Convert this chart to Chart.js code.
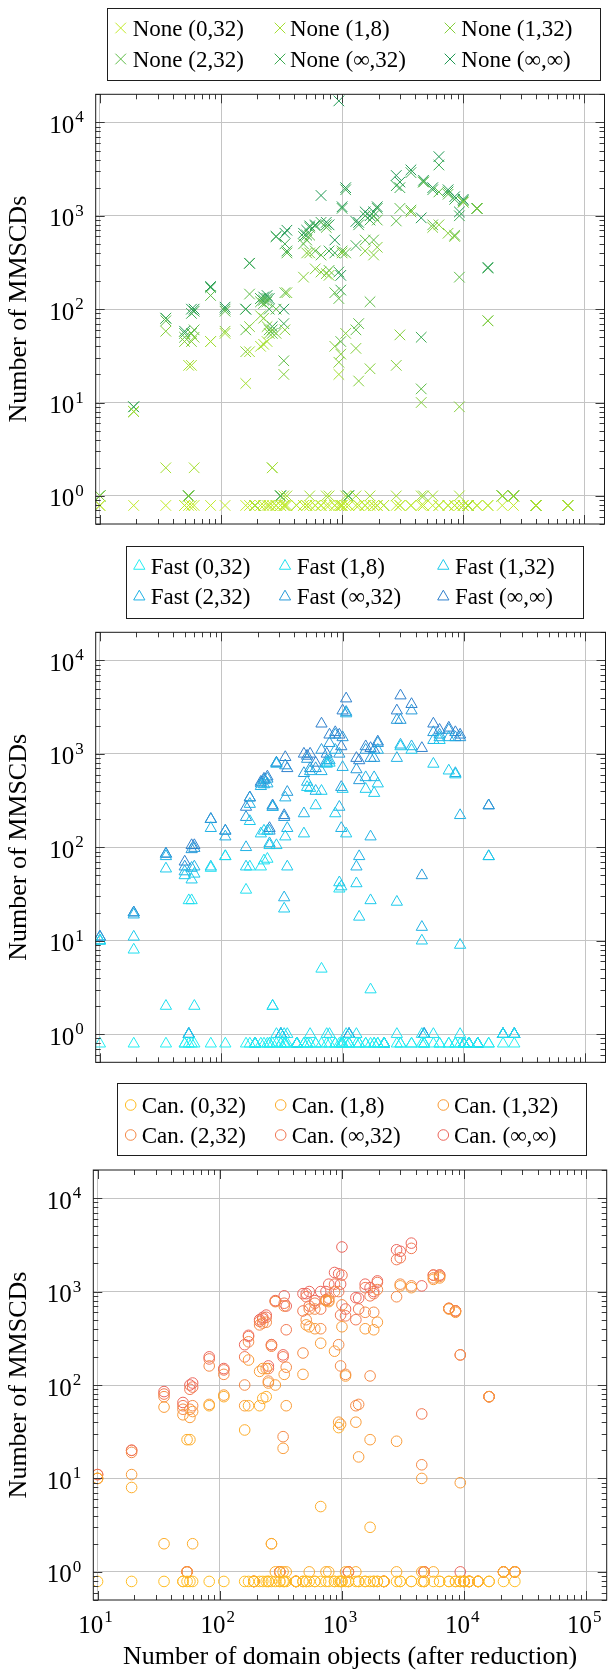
<!DOCTYPE html>
<html>
<head>
<meta charset="utf-8">
<title>Number of MMSCDs</title>
<script src="https://cdn.jsdelivr.net/npm/chart.js@4.4.1/dist/chart.umd.min.js"></script>
<style>
  body { margin: 0; background: #fff; }
  #page { position: relative; width: 613px; height: 1676px; overflow: hidden; }
  #page canvas { position: absolute; left: 0; }
</style>
</head>
<body>
<div id="page"></div>
<script>
// benchmarks: number of domain objects (after reduction)
const domainObjects = [10, 19, 35, 50, 54, 57, 60, 82, 108, 160,
  172, 190, 212, 225, 240, 250, 265, 285, 310, 330,
  337, 350, 420, 480, 510, 540, 600, 670, 740, 780,
  870, 940, 975, 1000, 1070, 1130, 1300, 1370, 1550, 1700,
  1820, 1950, 2200, 2800, 3000, 3700, 4500, 4700, 5600, 6300,
  7500, 8500, 9300, 10000, 11000, 13000, 16000, 21000, 26000, 40000,
  73000];

const xTickValues = [10, 100, 1000, 10000, 100000];
const yTickValues = [1, 10, 100, 1000, 10000];
const xLimits = [9.23, 146800];
const yLimits = [0.5, 20000];

// (a zero count is plotted at 0.79, just under 10^0)
const none032 = [.79,.79,.79,.79,.79,.79,.79,.79,.79,.79, .79,.79,.79,.79,.79,.79,.79,.79,.79,.79,
  .79,.79,.79,.79,.79,.79,.79,.79,.79,.79, .79,.79,.79,.79,.79,.79,.79,.79,.79,.79,
  .79,.79,.79,.79,.79,.79,.79,.79,.79,.79, .79,.79,.79,.79,.79,.79,.79,.79,.79,.79, .79];
const none18 = [.79,8,2,.79,25,25,2,45,55,16, 35,.79,40,42,45,.79,2,.79,.79,1,
  .79,1,.79,.79,.79,1,.79,.79,1,1, .79,20,.79,.79,1,.79,1,.79,.79,1,
  .79,.79,.79,1,.79,.79,1,.79,1,.79, .79,.79,1,.79,.79,.79,.79,1,1,.79, .79];
const none132 = [1,8,58,45,1,45,50,45,58,35, 65,.79,85,80,65,55,2,55,.79,20,
  60,150,.79,220,400,400,270,250,240,230, 40,27,33,400,55,.79,38,17,420,23,
  380,460,.79,25,53,1100,10,1,750,800, 650,600,9,1400,.79,1200,75,1,1,.79, .79];
const none232 = [1,8,75,50,1,55,60,140,95,60, 145,.79,120,115,120,60,55,100,1,28,
  150,400,.79,500,550,620,420,380,750,260, 150,130,45,420,400,1,60,70,550,120,
  550,900,.79,880,1200,1150,14,2300,800,1800, 1700,620,220,1400,.79,1200,75,1,1,.79, .79];
const noneInf32 = [1,9,80,55,1,90,95,170,100,100, 310,.79,130,125,130,100,60,600,1,70,
  500,420,.79,600,620,750,780,850,800,420, 400,250,160,1200,1900,1,480,800,1000,900,
  1000,1200,.79,2100,2000,2900,50,2300,1900,3500, 1800,1500,1000,1450,.79,1200,275,1,1,.79, .79];
const noneInfInf = [1,9,80,58,1,100,100,175,105,100, 310,.79,130,135,140,130,65,600,1,100,
  650,700,.79,650,700,780,800,1650,850,800, 550,17000,230,1250,2000,1,870,850,1100,1000,
  1100,1250,.79,2700,2300,3100,950,2400,2000,4300, 1900,1600,1100,1500,.79,1200,280,1,1,.79, .79];

const fast032 = [.79,.79,.79,.79,.79,.79,.79,.79,.79,.79, .79,.79,.79,.79,.79,.79,.79,.79,.79,.79,
  .79,.79,.79,.79,.79,.79,.79,.79,.79,.79, .79,.79,.79,.79,.79,.79,.79,.79,.79,.79,
  .79,.79,.79,.79,.79,.79,.79,.79,.79,.79, .79,.79,.79,.79,.79,.79,.79,.79,.79,null, null];
const fast18 = [10,8,2,.79,27,27,2,60,80,35, 62,.79,62,72,75,.79,2,1,.79,1,
  .79,1,.79,.79,.79,1,.79,5,1,1, .79,36,.79,.79,1,.79,1,.79,.79,3,
  .79,.79,.79,1,.79,.79,1,.79,1,.79, .79,.79,1,.79,.79,.79,.79,1,1,null, null];
const fast132 = [10,11,59,50,1,45,52,62,80,62, 190,.79,140,150,150,105,2,105,1,22,
  130,62,.79,140,440,430,280,400,780,800, 230,42,38,420,140,.79,41,18,420,27,
  380,480,.79,26,1200,1100,10,.79,780,1400, 660,600,9,.79,.79,.79,80,1,1,null, null];
const fast232 = [10,19,80,55,1,60,62,160,130,100, 290,.79,450,470,480,110,270,780,1,29,
  340,160,.79,230,500,650,400,650,800,850, 1100,270,160,720,2700,1,62,80,560,130,
  560,1100,.79,900,1250,1200,14,1,1400,1500, 1500,620,220,.79,.79,.79,80,1,1,null, null];
const fastInf32 = [11,20,85,62,1,95,98,200,150,210, 340,.79,480,520,540,150,270,800,1,210,
  750,390,.79,620,880,700,700,1100,850,1300, 1600,1000,440,1500,2800,1,680,520,1100,900,
  900,1300,.79,2300,2300,2900,50,1,1700,1600, 1800,1500,1500,.79,.79,.79,280,1,1,null, null];
const fastInfInf = [11,20,85,70,1,105,105,200,150,270, 340,.79,500,540,570,160,280,800,1,220,
  920,700,.79,1000,950,1000,800,2100,1000,1600, 1700,1600,1200,2900,3900,1,900,850,1200,1150,
  1100,1350,.79,2900,4200,3400,1150,1,2100,1800, 1900,1700,1600,.79,.79,.79,280,1,1,null, null];

const can032 = [.79,.79,.79,.79,.79,.79,.79,.79,.79,.79, .79,.79,.79,.79,.79,.79,.79,.79,.79,.79,
  .79,.79,.79,.79,.79,.79,.79,.79,.79,.79, .79,.79,.79,.79,.79,.79,.79,.79,.79,.79,
  .79,.79,.79,.79,.79,.79,.79,.79,.79,.79, .79,.79,.79,.79,.79,.79,.79,.79,.79,null, null];
const can18 = [10,8,2,.79,26,26,2,60,75,33, 60,.79,60,72,75,.79,2,1,.79,1,
  .79,1,.79,.79,.79,1,.79,5,1,1, .79,35,.79,.79,1,.79,1,.79,.79,3,
  .79,.79,.79,1,.79,.79,1,.79,1,.79, .79,.79,.79,.79,.79,.79,.79,1,1,null, null];
const can132 = [10,11,58,48,1,45,52,62,78,60, 185,.79,140,150,150,105,2,100,1,21,
  130,60,.79,130,440,420,400,280,800,780, 230,40,38,420,125,.79,40,17,400,26,
  390,470,.79,25,1150,1100,10,.79,1350,1400, 650,600,9,.79,.79,.79,75,1,1,null, null];
const can232 = [10,19,75,55,1,55,60,160,130,100, 290,.79,440,460,470,110,260,780,1,28,
  700,155,.79,220,500,650,650,400,800,800, 1000,270,160,720,130,1,60,62,600,125,
  600,1050,.79,880,1200,1150,14,1,1400,1450, 660,620,210,.79,.79,.79,75,1,1,null, null];
const canInf32 = [11,20,80,60,1,90,95,190,145,200, 330,.79,480,510,530,150,270,790,1,200,
  750,390,.79,620,880,700,750,650,820,850, 1200,1000,560,1500,550,1,500,650,1100,900,
  950,1250,.79,2200,2300,2900,49,1,1500,1500, 660,620,210,.79,.79,.79,75,1,1,null, null];
const canInfInf = [11,20,85,65,1,100,105,200,150,270, 340,.79,500,530,560,160,270,800,1,210,
  900,700,.79,950,950,1000,800,1000,1000,1200, 1600,1550,1200,3000,650,1,860,850,1200,1100,
  1000,1300,.79,2800,2700,3300,1150,1,1500,1500, 660,620,1,.79,.79,.79,75,1,1,null, null];

const configs = ['(0,32)', '(1,8)', '(1,32)', '(2,32)', '(\u221E,32)', '(\u221E,\u221E)'];

const panels = [
  {
    prefix: 'None', style: 'crossRot', radius: 7.5,
    series: [none032, none18, none132, none232, noneInf32, noneInfInf],
    colors: ['#c2ea2a', '#a4df31', '#84cf3b', '#5fbd48', '#3cab52', '#1f9853'],
    top: 0, height: 534, pad: { top: 94.3, bottom: 10, left: 0, right: 1.2 }, yWidth: 95.7, xAxis: false,
    legend: { left: 107.3, top: 8.3, width: 494, height: 72.5, markX: [13.4, 172.7, 342.7], textX: [25.4, 182.7, 354], rowY: [19.7, 50.7] }
  },
  {
    prefix: 'Fast', style: 'triangle', radius: 6.5,
    series: [fast032, fast18, fast132, fast232, fastInf32, fastInfInf],
    colors: ['#22eef2', '#1fdff0', '#1ccaec', '#20b2e5', '#279ad9', '#2f80cd'],
    top: 534, height: 538, pad: { top: 98.3, bottom: 9.7, left: 0, right: 1.2 }, yWidth: 95.7, xAxis: false,
    legend: { left: 125.5, top: 12, width: 457.5, height: 72.5, markX: [13.8, 159.5, 317.8], textX: [25.2, 171.2, 329.5], rowY: [20, 50.7] }
  },
  {
    prefix: 'Can.', style: 'circle', radius: 5.3,
    series: [can032, can18, can132, can232, canInf32, canInfInf],
    colors: ['#ffbd22', '#fdad2b', '#f99c39', '#f58a47', '#f17853', '#ec665c'],
    top: 1072, height: 604, pad: { top: 98, bottom: 0, left: 0, right: 2.4 }, yWidth: 93.3, xAxis: true,
    legend: { left: 117.3, top: 11.3, width: 469.7, height: 72.7, markX: [13.4, 163.4, 326], textX: [24.4, 174.4, 336.7], rowY: [21.7, 51.7] }
  }
];

const serif = '"Liberation Serif", serif';

function logTicks(min, max) {
  const out = [];
  for (let k = Math.floor(Math.log10(min)); k <= Math.ceil(Math.log10(max)); k++) {
    for (let m = 1; m <= 9; m++) {
      const v = m * Math.pow(10, k);
      if (v >= min * 0.999 && v <= max * 1.001) out.push({ v, major: m === 1 });
    }
  }
  return out;
}

function drawPower(ctx, value, x, y, align) {
  const exp = String(Math.round(Math.log10(value)));
  ctx.font = '25px ' + serif;
  const wBase = ctx.measureText('10').width;
  ctx.font = '17px ' + serif;
  const wExp = ctx.measureText(exp).width;
  const total = wBase + 1 + wExp;
  const x0 = align === 'right' ? x - total : x - total / 2;
  ctx.fillStyle = '#000';
  ctx.textAlign = 'left';
  ctx.textBaseline = 'alphabetic';
  ctx.font = '25px ' + serif;
  ctx.fillText('10', x0, y + 8.5);
  ctx.font = '17px ' + serif;
  ctx.fillText(exp, x0 + wBase + 1, y - 2);
}

function drawMarker(ctx, ds, x, y) {
  ctx.save();
  ctx.strokeStyle = ds.borderColor;
  ctx.fillStyle = 'rgba(0,0,0,0)';
  ctx.lineWidth = 1;
  Chart.helpers.drawPoint(ctx, { pointStyle: ds.pointStyle, radius: ds.pointRadius, rotation: 0, borderWidth: 1 }, x, y);
  ctx.restore();
}

// pgfplots-like frame with inward major/minor ticks and 10^k labels
const frameTicks = {
  id: 'frameTicks',
  afterDatasetsDraw(chart) {
    const { ctx, chartArea: a, scales: { x, y } } = chart;
    ctx.save();
    ctx.strokeStyle = '#3a3a3a';
    ctx.lineWidth = 1;
    ctx.beginPath();
    logTicks(x.min, x.max).forEach(t => {
      const px = Math.round(x.getPixelForValue(t.v)) + 0.5;
      const len = t.major ? 9 : 5;
      ctx.moveTo(px, a.top); ctx.lineTo(px, a.top + len);
      ctx.moveTo(px, a.bottom); ctx.lineTo(px, a.bottom - len);
    });
    logTicks(y.min, y.max).forEach(t => {
      const py = Math.round(y.getPixelForValue(t.v)) + 0.5;
      const len = t.major ? 9 : 5;
      ctx.moveTo(a.left, py); ctx.lineTo(a.left + len, py);
      ctx.moveTo(a.right, py); ctx.lineTo(a.right - len, py);
    });
    ctx.stroke();
    ctx.strokeStyle = '#1a1a1a';
    ctx.strokeRect(a.left, a.top, a.right - a.left, a.bottom - a.top);
    ctx.restore();
  },
  afterDraw(chart, args, opts) {
    const { ctx, chartArea: a, scales: { x, y } } = chart;
    ctx.save();
    y.ticks.forEach(t => drawPower(ctx, t.value, a.left - 12, y.getPixelForValue(t.value) + 2, 'right'));
    if (opts.xLabels) {
      x.ticks.forEach(t => drawPower(ctx, t.value, x.getPixelForValue(t.value) - 2, a.bottom + 24, 'center'));
    }
    ctx.restore();
  }
};

// boxed three-column legend above each panel
const boxLegend = {
  id: 'boxLegend',
  afterDraw(chart, args, L) {
    const ctx = chart.ctx;
    ctx.save();
    ctx.fillStyle = '#fff';
    ctx.fillRect(L.left, L.top, L.width, L.height);
    ctx.strokeStyle = '#1e1e1e';
    ctx.lineWidth = 1;
    ctx.strokeRect(Math.round(L.left) + 0.5, Math.round(L.top) + 0.5, Math.round(L.width) - 1, Math.round(L.height) - 1);
    chart.data.datasets.forEach((ds, i) => {
      const row = Math.floor(i / 3), col = i % 3;
      const cy = L.top + L.rowY[row];
      drawMarker(ctx, ds, L.left + L.markX[col], cy);
      ctx.fillStyle = '#000';
      ctx.font = '23px ' + serif;
      ctx.textAlign = 'left';
      ctx.textBaseline = 'alphabetic';
      ctx.fillText(ds.label, L.left + L.textX[col], cy + 7.6);
    });
    ctx.restore();
  }
};

const page = document.getElementById('page');

panels.forEach(p => {
  const canvas = document.createElement('canvas');
  canvas.width = 613;
  canvas.height = p.height;
  canvas.style.top = p.top + 'px';
  canvas.style.width = '613px';
  canvas.style.height = p.height + 'px';
  page.appendChild(canvas);

  new Chart(canvas.getContext('2d'), {
    type: 'scatter',
    data: {
      datasets: p.series.map((vals, i) => ({
        label: p.prefix + ' ' + configs[i],
        data: domainObjects.map((x, j) => ({ x: x, y: vals[j] })).filter(d => d.y !== null),
        pointStyle: p.style,
        pointRadius: p.radius,
        pointHoverRadius: p.radius,
        borderColor: p.colors[i],
        backgroundColor: 'rgba(0,0,0,0)',
        pointBorderWidth: 1,
        showLine: false
      }))
    },
    options: {
      responsive: false,
      animation: false,
      devicePixelRatio: 1,
      events: [],
      layout: { padding: p.pad },
      plugins: {
        legend: { display: false },
        tooltip: { enabled: false },
        frameTicks: { xLabels: p.xAxis },
        boxLegend: p.legend
      },
      scales: {
        x: {
          type: 'logarithmic',
          min: xLimits[0],
          max: xLimits[1],
          afterBuildTicks: s => { s.ticks = xTickValues.map(v => ({ value: v })); },
          afterFit: s => { s.height = p.xAxis ? 76 : 0; },
          ticks: { display: false },
          grid: { color: '#c4c4c4', lineWidth: 1, drawTicks: false },
          border: { display: false },
          title: {
            display: p.xAxis,
            text: 'Number of domain objects (after reduction)',
            color: '#000',
            font: { family: serif, size: 26 },
            padding: { top: 0, bottom: 3 }
          }
        },
        y: {
          type: 'logarithmic',
          min: yLimits[0],
          max: yLimits[1],
          afterBuildTicks: s => { s.ticks = yTickValues.map(v => ({ value: v })); },
          afterFit: s => { s.width = p.yWidth; },
          ticks: { display: false },
          grid: { color: '#c4c4c4', lineWidth: 1, drawTicks: false },
          border: { display: false },
          title: {
            display: true,
            text: 'Number of MMSCDs',
            color: '#000',
            font: { family: serif, size: 26 },
            padding: { top: 4, bottom: 0 }
          }
        }
      }
    },
    plugins: [frameTicks, boxLegend]
  });
});
</script>
</body>
</html>
